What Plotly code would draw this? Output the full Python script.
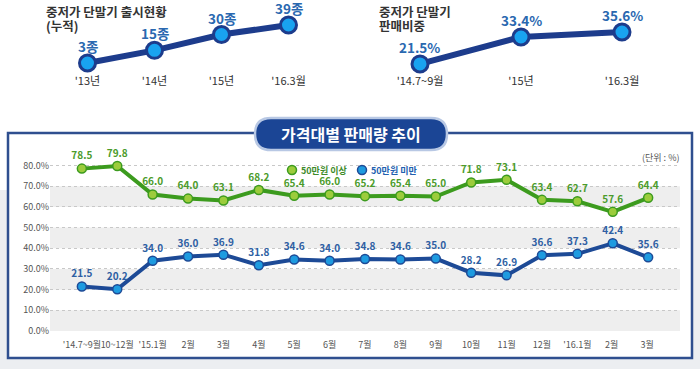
import plotly.graph_objects as go

# ---- data ----
launch_cats = ["'13년", "'14년", "'15년", "'16.3월"]
launch_vals = [3, 15, 30, 39]
launch_labels = ["3종", "15종", "30종", "39종"]

share_cats = ["'14.7~9월", "'15년", "'16.3월"]
share_vals = [21.5, 33.4, 35.6]
share_labels = ["21.5%", "33.4%", "35.6%"]

months = ["'14.7~9월", "10~12월", "'15.1월", "2월", "3월", "4월", "5월", "6월", "7월",
          "8월", "9월", "10월", "11월", "12월", "'16.1월", "2월 ", "3월 "]
over50 = [78.5, 79.8, 66.0, 64.0, 63.1, 68.2, 65.4, 66.0, 65.2, 65.4, 65.0, 71.8, 73.1,
          63.4, 62.7, 57.6, 64.4]
under50 = [21.5, 20.2, 34.0, 36.0, 36.9, 31.8, 34.6, 34.0, 34.8, 34.6, 35.0, 28.2, 26.9,
           36.6, 37.3, 42.4, 35.6]
series_names = ["50만원 이상", "50만원 미만"]
y_ticks = [0, 10, 20, 30, 40, 50, 60, 70, 80]

W, H = 700, 369
FONT = "Noto Sans CJK KR"


def px(x):
    return x / W


def py(y):
    return 1 - y / H


fig = go.Figure()

# --- top mini charts ---
TOPLINE = "#1d3c8c"
TOPMK = "#19a3f0"
TOPTXT = "#2a68b0"
fig.add_trace(go.Scatter(
    x=launch_cats, y=launch_vals, mode="lines+markers",
    line=dict(color=TOPLINE, width=6),
    marker=dict(size=16, color=TOPMK, line=dict(color=TOPLINE, width=3)),
    xaxis="x2", yaxis="y2", showlegend=False, cliponaxis=False))

fig.add_trace(go.Scatter(
    x=share_cats, y=share_vals, mode="lines+markers",
    line=dict(color=TOPLINE, width=6),
    marker=dict(size=16, color=TOPMK, line=dict(color=TOPLINE, width=3)),
    xaxis="x3", yaxis="y3", showlegend=False, cliponaxis=False))

# --- main chart ---
G_LINE, G_MK, G_TXT = "#3c9b1e", "#9ccc3c", "#4b9b2b"
B_LINE, B_MK, B_TXT = "#1d4a96", "#1e9be0", "#2e5fa3"

fig.add_trace(go.Scatter(
    x=months, y=over50, mode="lines+markers+text", name=series_names[0],
    text=[f"<b>{v:.1f}</b>" for v in over50], textposition="top center",
    textfont=dict(size=10, color=G_TXT, family=FONT),
    line=dict(color=G_LINE, width=4),
    marker=dict(size=9, color=G_MK, line=dict(color=G_LINE, width=1.5)),
    showlegend=False, cliponaxis=False))
fig.add_trace(go.Scatter(
    x=months, y=under50, mode="lines+markers+text", name=series_names[1],
    text=[f"<b>{v:.1f}</b>" for v in under50], textposition="top center",
    textfont=dict(size=10, color=B_TXT, family=FONT),
    line=dict(color=B_LINE, width=4),
    marker=dict(size=9, color=B_MK, line=dict(color=B_LINE, width=1.5)),
    showlegend=False, cliponaxis=False))

shapes = []
# soft gray backdrop behind the lower box
shapes.append(dict(type="rect", xref="paper", yref="paper", x0=0, x1=1, y0=0, y1=py(190),
                   fillcolor="#eceef1", line=dict(width=0), layer="below"))
# outer box
shapes.append(dict(type="rect", xref="paper", yref="paper",
                   x0=px(8), x1=px(692), y0=py(358), y1=py(133),
                   line=dict(color="#2f4f8f", width=2.5), fillcolor="white", layer="below"))
# gray bands
for lo in y_ticks[::2][:-1]:
    shapes.append(dict(type="rect", xref="x domain", yref="y", x0=0, x1=1, y0=lo, y1=lo + 10,
                       fillcolor="#eeeeee", line=dict(width=0), layer="below"))
# banner
bx0, bx1, by0, by1, r = 255, 447, 118, 150, 16
path = (f"M {px(bx0 + r)},{py(by0)} L {px(bx1 - r)},{py(by0)} "
        f"Q {px(bx1)},{py(by0)} {px(bx1)},{py((by0 + by1) / 2)} "
        f"Q {px(bx1)},{py(by1)} {px(bx1 - r)},{py(by1)} "
        f"L {px(bx0 + r)},{py(by1)} "
        f"Q {px(bx0)},{py(by1)} {px(bx0)},{py((by0 + by1) / 2)} "
        f"Q {px(bx0)},{py(by0)} {px(bx0 + r)},{py(by0)} Z")
shapes.append(dict(type="path", xref="paper", yref="paper", path=path,
                   fillcolor="#1b4595", line=dict(color="#b8c8e4", width=2.5)))

# legend symbols (drawn as pixel-sized circles)
for cx, fc, lc in [(292, G_MK, G_LINE), (362, B_MK, B_LINE)]:
    shapes.append(dict(type="circle", xref="paper", yref="paper", xsizemode="pixel",
                       ysizemode="pixel", xanchor=px(cx), yanchor=py(170),
                       x0=-4.5, x1=4.5, y0=-4.5, y1=4.5, fillcolor=fc,
                       line=dict(color=lc, width=1.5)))

annotations = [
    dict(text="<b>가격대별 판매량 추이</b>", x=px(351), y=py(134), xref="paper", yref="paper",
         showarrow=False, font=dict(size=16, color="white", family=FONT)),
    dict(text="(단위 : %)", x=px(681), y=py(157), xref="paper", yref="paper", xanchor="right",
         showarrow=False, font=dict(size=9, color="#555", family=FONT)),
    dict(text=f"<b>{series_names[0]}</b>", x=px(299), y=py(170), xref="paper", yref="paper",
         xanchor="left", showarrow=False, font=dict(size=9, color="#3d8b2a", family=FONT)),
    dict(text=f"<b>{series_names[1]}</b>", x=px(369), y=py(170), xref="paper", yref="paper",
         xanchor="left", showarrow=False, font=dict(size=9, color="#2160b0", family=FONT)),
]
for x0, y0, t in [(44, 12, "중저가 단말기 출시현황"), (44, 26, "(누적)"),
                  (377, 11, "중저가 단말기"), (377, 25, "판매비중")]:
    annotations.append(dict(text=f"<b>{t}</b>", x=px(x0), y=py(y0), xref="paper", yref="paper",
                            xanchor="left", yanchor="middle", showarrow=False,
                            font=dict(size=12.5, color="#333", family=FONT)))
# value labels for the mini charts
for xr, yr, cats, vals, labs in [("x2", "y2", launch_cats, launch_vals, launch_labels),
                                 ("x3", "y3", share_cats, share_vals, share_labels)]:
    for c, v, t in zip(cats, vals, labs):
        annotations.append(dict(text=f"<b>{t}</b>", x=c, y=v, xref=xr, yref=yr, yshift=17,
                                showarrow=False,
                                font=dict(size=13.5, color=TOPTXT, family=FONT)))

fig.update_layout(
    width=W, height=H, margin=dict(l=0, r=0, t=0, b=0),
    paper_bgcolor="white", plot_bgcolor="rgba(0,0,0,0)",
    font=dict(family=FONT), showlegend=False,
    shapes=shapes, annotations=annotations,
    xaxis=dict(domain=[px(50), px(680)], range=[-0.9, 16.9], showgrid=False, zeroline=False,
               showline=False, ticks="", tickangle=0, automargin=False, ticklabelstandoff=7,
               tickfont=dict(size=9, color="#555"),
               categoryorder="array", categoryarray=months),
    yaxis=dict(domain=[py(331), py(150)], range=[0, 87.5], tickvals=y_ticks,
               ticktext=[f"{v:.1f}%" for v in y_ticks], automargin=False,
               showgrid=True, gridcolor="#c8c8c8",
               griddash="dot", gridwidth=1, zeroline=False, showline=False,
               tickfont=dict(size=9, color="#555")),
    xaxis2=dict(domain=[px(54), px(322)], range=[-0.5, 3.5], anchor="y2", showgrid=False,
                zeroline=False, showline=False, ticks="", automargin=False,
                tickfont=dict(size=11, color="#333")),
    yaxis2=dict(domain=[py(73), py(15)], range=[-6.5, 48.5], anchor="x2", visible=False),
    xaxis3=dict(domain=[px(369.5), px(672.5)], range=[-0.5, 2.5], anchor="y3", showgrid=False,
                zeroline=False, showline=False, ticks="", automargin=False,
                tickfont=dict(size=11, color="#333")),
    yaxis3=dict(domain=[py(73), py(15)], range=[17.5, 43.1], anchor="x3", visible=False),
)

fig.write_html("out.html", config={"displayModeBar": False},
               post_script="document.body.style.margin='0';")
